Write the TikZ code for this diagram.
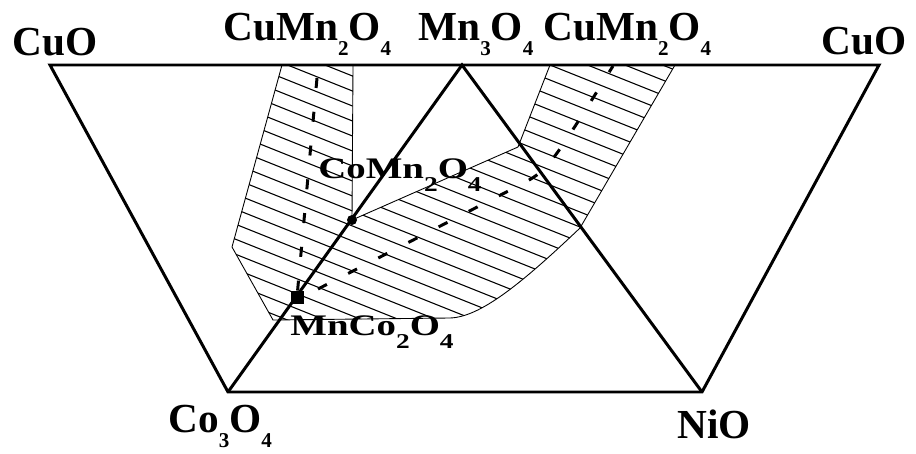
\documentclass[tikz,border=0pt]{standalone}
\usepackage{fontspec}
\setmainfont{Liberation Serif}
\newfontfamily\widefont[FakeStretch=1.3]{Liberation Serif}
\usepackage{tikz}

% lowered index digits, as the figure sets them
\newcommand\dnA[1]{\raisebox{-9pt}{\fontsize{12}{12}\selectfont #1}}
\newcommand\dnB[1]{\raisebox{-7.5pt}{\fontsize{12}{12}\selectfont #1}}

\begin{document}
\begin{tikzpicture}[x=0.02cm, y=-0.02cm,
    edge/.style={line width=1.7pt, line join=miter},
    zone/.style={line width=0.5pt},
    hatch/.style={line width=0.6pt},
    tie/.style={line width=1.7pt, dash pattern=on 5.7pt off 13.6pt},
    lbl/.style={inner sep=0pt, anchor=base west, font=\fontsize{23.5}{26}\selectfont\bfseries},
    ilbl/.style={inner sep=0pt, anchor=base west, font=\widefont\bfseries\fontsize{17}{19}\selectfont}]
  \useasboundingbox (0,0) rectangle (916,453);

  % ---- corners of the diagram ----
  \coordinate (cuoL) at (50,65);
  \coordinate (cuoR) at (879,65);
  \coordinate (mnO) at (462,65);
  \coordinate (coO) at (228,392);
  \coordinate (niO) at (702,392);
  \coordinate (comn) at (352,220);
  \coordinate (mnco) at (297,297);

  % ---- hatched spinel field ----
  \begin{scope}
    \clip (282,65) -- (353,65) -- (comn) -- (518,147) -- (550,65) -- (675,65) -- (580,228)
      .. controls (520,285) and (480,317) .. (450,318) -- (273,320) -- (232,247) -- cycle;
    \foreach \k in {-10,...,22}
      \draw[hatch] (200,\k*15) -- (720,\k*15+208);
  \end{scope}
  \draw[zone] (282,65) -- (353,65) -- (comn) -- (518,147) -- (550,65) -- (675,65) -- (580,228)
      .. controls (520,285) and (480,317) .. (450,318) -- (273,320) -- (232,247) -- cycle;

  % ---- centre lines of the bands ----
  \draw[tie] (317,78) -- (mnco);
  \draw[tie] (318,289) -- (520,185) .. controls (548,170) .. (613,66);

  % ---- outer trapezoid and Mn3O4 triangle ----
  \draw[edge] (cuoL) -- (cuoR) -- (niO) -- (coO) -- cycle;
  \draw[edge] (coO) -- (mnO) -- (niO);

  % ---- spinel points ----
  \fill (comn) circle[radius=0.1cm];
  \fill (mnco) ++(-6.5,-6.5) rectangle ++(13,13);

  % ---- labels ----
  \node[lbl] (tCuOl) at (12,55) {CuO};
  \node[lbl] (tCuMnl) at (223,40) {CuMn\dnA{2}O\dnA{4}};
  \node[lbl] (tMn) at (418,40) {Mn\dnA{3}O\dnA{4}};
  \node[lbl] (tCuMnr) at (543,40) {CuMn\dnA{2}O\dnA{4}};
  \node[lbl] (tCuOr) at (821,54) {CuO};
  \node[lbl] (tCo) at (168,432) {Co\dnA{3}O\dnA{4}};
  \node[lbl] (tNi) at (677,438) {NiO};
  \node[ilbl] (tCoMn) at (318,178) {CoMn\dnB{2}O\dnB{4}};
  \node[ilbl] (tMnCo) at (290,335) {MnCo\dnB{2}O\dnB{4}};
\end{tikzpicture}
\end{document}
